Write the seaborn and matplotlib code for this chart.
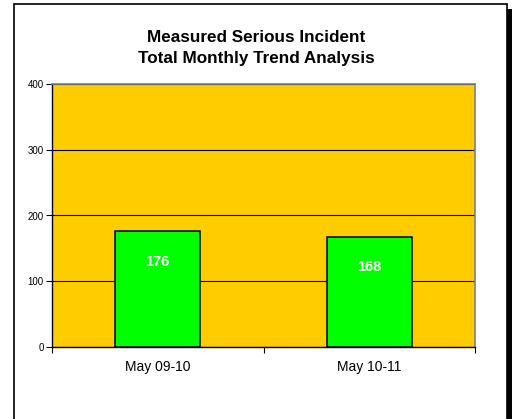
import matplotlib
matplotlib.use("Agg")
import matplotlib.pyplot as plt
from matplotlib.patches import Rectangle
from matplotlib.ticker import FixedLocator
import seaborn as sns

periods = ["May 09-10", "May 10-11"]
totals = [176, 168]
y_ticks = [0, 100, 200, 300, 400]

sns.set_style("white")
plt.rcParams["font.family"] = ["Liberation Sans", "DejaVu Sans"]
plt.rcParams["text.color"] = "black"

fig = plt.figure(figsize=(5.13, 4.19), dpi=100)

# outer chart frame with its drop shadow on the right
fig.patches.append(Rectangle((507 / 513, -0.1), 5 / 513, 1.1 - 9 / 419,
                             transform=fig.transFigure, facecolor="black",
                             edgecolor="none", zorder=0))
fig.patches.append(Rectangle((14 / 513, -0.1), 493 / 513, 1.1 - 4 / 419,
                             transform=fig.transFigure, facecolor="white",
                             edgecolor="black", linewidth=1.2, zorder=1))

ax = fig.add_axes([52 / 513, 72 / 419, 423 / 513, 263 / 419])
ax.set_zorder(2)
ax.set_facecolor("#FFCC00")

sns.barplot(x=periods, y=totals, color="#00FF00", width=0.4,
            edgecolor="black", linewidth=1.1, saturation=1, ax=ax)

ax.set_ylim(0, 400)
ax.set_xlim(-0.5, 1.5)
ax.set_yticks(y_ticks)
ax.set_yticklabels([str(v) for v in y_ticks], fontsize=7, color="black")
ax.yaxis.grid(True, color="black", linewidth=0.8)
ax.set_axisbelow(True)

ax.tick_params(axis="y", direction="out", length=4, width=0.8, color="#000033", pad=2, left=True)
ax.tick_params(axis="x", which="major", length=0, labelsize=10, pad=9, labelcolor="black")
ax.xaxis.set_minor_locator(FixedLocator([-0.5, 0.5, 1.5]))
ax.tick_params(axis="x", which="minor", direction="out", length=4, width=0.8, color="black", bottom=True)

for side in ["top", "right"]:
    ax.spines[side].set_color("#808080")
    ax.spines[side].set_linewidth(1.2)
ax.spines["left"].set_color("#000033")
ax.spines["left"].set_linewidth(1.0)
ax.spines["bottom"].set_color("black")
ax.spines["bottom"].set_linewidth(1.0)

for i, v in enumerate(totals):
    ax.annotate(str(v), xy=(i, v), xytext=(0, -22), textcoords="offset points",
                ha="center", va="center", color="white", fontsize=10.5,
                fontweight="bold")

fig.text(256 / 513, 1 - 38 / 419, "Measured Serious Incident", ha="center",
         va="center", fontsize=12.3, fontweight="bold", color="black", zorder=3)
fig.text(256 / 513, 1 - 58 / 419, "Total Monthly Trend Analysis", ha="center",
         va="center", fontsize=12.3, fontweight="bold", color="black", zorder=3)

fig.savefig("out.png", dpi=100)
